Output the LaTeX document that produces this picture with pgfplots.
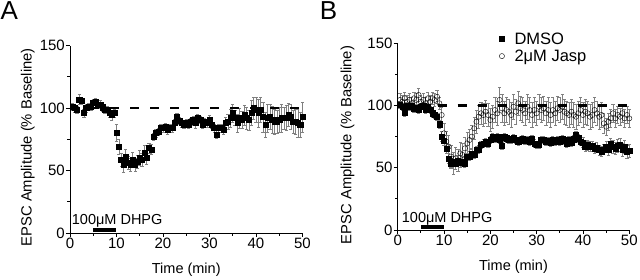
\documentclass[border=0pt]{standalone}
\usepackage{fontspec}
\setmainfont{Liberation Sans}
\usepackage{pgfplots}
\pgfplotsset{compat=1.18}
\usepackage{pgfplotstable}
\newcommand\fs{\fontsize{14.5}{17}\selectfont}
\newcommand\fl{\fontsize{16.5}{19}\selectfont}

\pgfplotstableread{
t v e
0.5 101.2 3
1 100 3
1.5 98.6 3
2 107 4
2.5 105.8 3
3 96 3
3.5 100 3
4 101 3
4.5 101 3
5 104 3
5.5 105 3
6 102.6 3
6.5 103 3
7 100.7 3
7.5 98.6 3
8 98.6 3
8.5 96 3
9 94.6 4
9.5 96 3
10 80 7
10.5 69 6
11 58.6 5
11.5 54.6 6
12 61 6
12.5 56 5
13 54.6 5
13.5 58.6 6
14 54.6 5
14.5 57 5
15 60 6
15.5 58.6 5
16 64 6
16.5 60 5
17 68 4
17.5 66.6 4
18 77 3
18.5 80 3
19 81 3
19.5 84 3
20 84 3
20.5 85 3
21 83 4
21.5 84 3
22 84 3
22.5 88 3
23 92.7 3
23.5 90 3
24 88 3
24.5 86.6 3
25 88 3
25.5 86.6 3
26 89 3
26.5 90.6 3
27 88 4
27.5 92 3
28 90.6 3
28.5 86.6 3
29 89 3
29.5 88 3
30 90.6 4
30.5 86.6 3
31 84 3
31.5 79 3
32 84 3
32.5 84 3
33 83 4
33.5 88 5
34 89 6
34.5 92 7
35 96 7
35.5 92 6
36 88 7
36.5 92 8
37 90.6 7
37.5 94.6 8
38 92 9
38.5 90.6 8
39 96 10
39.5 100 9
40 98.6 10
40.5 96 11
41 98.6 10
41.5 93 12
42 86.6 10
42.5 92 11
43 93 10
43.5 90.6 11
44 89 10
44.5 89 9
45 90.6 10
45.5 92 11
46 92 9
46.5 92 10
47 94.6 9
47.5 93 10
48 89 9
48.5 89 10
49 88 11
49.5 86.6 10
50 93 12
}\dataA

\pgfplotstableread{
t v e
0.5 100.5 3
1 99 3
1.5 94 3
2 99.6 3
2.5 99 3
3 99.6 3
3.5 97.8 3
4 97.8 3
4.5 96.4 3
5 99 3
5.5 99.6 3
6 96.4 3
6.5 99 3
7 96.4 3
7.5 93.8 3
8 92.4 3
8.5 91 3
9 85 3
9.5 75 4
10 72 4
10.5 65.6 4
11 57.6 4
11.5 53.6 4
12 55 4
12.5 53 4
13 56 4
13.5 54 4
14 55 4
14.5 53.6 3
15 59 3
15.5 59 3
16 61.6 3
16.5 60.3 3
17 64.3 3
17.5 64.8 3
18 68.3 3
18.5 69.6 3
19 71 3
19.5 69.6 3
20 72.3 3
20.5 75 3
21 73.7 3
21.5 74.5 3
22 72.3 3
22.5 67.5 3
23 74.5 3
23.5 73.7 3
24 72.9 3
24.5 72.3 3
25 73.7 3
25.5 72.3 3
26 71 3
26.5 72.3 3
27 72.9 3
27.5 71.8 3
28 72.3 3
28.5 71 3
29 72.9 3
29.5 69.6 3
30 68.3 3
30.5 68.3 3
31 72.3 3
31.5 72.3 3
32 71 3
32.5 71.8 3
33 70.2 3
33.5 72.3 3
34 71 3
34.5 72.3 3
35 71 3
35.5 72.9 3
36 71.8 3
36.5 69.6 3
37 72.3 3
37.5 70.2 3
38 72.9 3
38.5 76.3 3
39 73.7 3
39.5 71 3
40 70.2 4
40.5 67 4
41 68.3 4
41.5 67 4
42 67.5 4
42.5 65.6 4
43 66.4 4
43.5 64.3 4
44 63 4
44.5 64.8 4
45 67 4
45.5 64.3 4
46 69 5
46.5 67 5
47 65.6 5
47.5 67.5 5
48 68.3 5
48.5 64.3 5
49 67 5
49.5 63 5
50 63.8 5
}\dataBd

\pgfplotstableread{
t v e
0.5 104.5 5
1 103 5
1.5 105.8 5
2 103 5
2.5 104.5 5
3 101.8 5
3.5 105.8 5
4 104.5 5
4.5 108.5 5
5 103 5
5.5 104.5 5
6 101.8 5
6.5 105.8 5
7 103 5
7.5 105.8 5
8 104.5 5
8.5 107 5
9 101.8 5
9.5 92.4 6
10 77.7 8
10.5 71 8
11 67 9
11.5 59 9
12 53.6 9
12.5 57.6 9
13 56 9
13.5 61.6 9
14 60.3 9
14.5 65.6 9
15 69.6 9
15.5 72.3 9
16 75 9
16.5 81.7 9
17 87 9
17.5 91 9
18 93.8 9
18.5 92.4 9
19 95 9
19.5 92.4 9
20 88.4 9
20.5 91 9
21 96.4 10
21.5 93.8 10
22 104.5 10
22.5 97.8 11
23 93.8 10
23.5 96.4 10
24 95 10
24.5 92.4 10
25 99 10
25.5 95 10
26 101.8 10
26.5 97.8 10
27 96.4 10
27.5 93.8 10
28 99 10
28.5 96.4 10
29 92.4 10
29.5 96.4 10
30 93.8 10
30.5 99 10
31 96.4 10
31.5 97.8 10
32 93.8 10
32.5 96.4 10
33 92.4 10
33.5 96.4 10
34 93.8 10
34.5 97.8 10
35 96.4 10
35.5 99 10
36 95 10
36.5 93.8 10
37 92.4 10
37.5 95 10
38 92.4 10
38.5 91 10
39 93.8 10
39.5 96.4 10
40 92.4 10
40.5 95 10
41 93.8 10
41.5 91 10
42 92.4 10
42.5 96.4 10
43 93.8 10
43.5 91 10
44 92.4 10
44.5 85.7 8
45 83 7
45.5 87 7
46 89.7 7
46.5 93.8 7
47 89.7 7
47.5 92.4 7
48 91 7
48.5 93.8 7
49 89.7 7
49.5 92.4 7
50 89.7 7
}\dataBj

\pgfplotsset{
  myaxis/.style={
    scale only axis, anchor=south west,
    axis lines=left, axis line style={-, line width=0.8pt},
    xmin=0, xmax=50, ymin=0, ymax=150, enlargelimits=false,
    xtick={0,10,...,50}, ytick={0,50,100,150},
    minor x tick num=1, minor y tick num=1,
    tick align=outside, major tick length=4pt, minor tick length=2.5pt,
    tick style={line width=0.8pt, black},
    ticklabel style={font=\fontsize{15}{17}\selectfont, inner sep=1pt},
    /pgf/number format/assume math mode=true,
    label style={font=\fs},
    ylabel style={font=\fontsize{14.8}{17}\selectfont},
    xlabel={Time (min)}, ylabel={EPSC Amplitude (\% Baseline)},
    clip=false,
  },
  ebars/.style={
    error bars/.cd, y dir=both, y explicit,
    error bar style={gray, line width=0.6pt},
    error mark options={rotate=90, mark size=1.6pt, gray, line width=0.6pt},
  },
}

\begin{document}
\begin{tikzpicture}[x=1pt,y=1pt]
\path[use as bounding box] (0,0) rectangle (640,279);
\node[anchor=base west, inner sep=0, font=\fontsize{26}{30}\selectfont] at (0.5,259.5) {A};
\node[anchor=base west, inner sep=0, font=\fontsize{26}{30}\selectfont] at (319.7,259.5) {B};

\begin{axis}[myaxis, at={(70pt,46pt)}, width=232.5pt, height=187.4pt,
  xlabel style={at={(axis description cs:0.5,-0.195)}, anchor=center},
  ylabel style={at={(axis description cs:-0.181,0.458)}, anchor=center}]
\addplot[only marks, mark=square*, mark size=2.6pt, black, ebars]
  table[x=t, y=v, y error=e] {\dataA};
\addplot[black, line width=2.5pt, dash pattern=on 9pt off 11pt] coordinates {(0,100) (50,100)};
\addplot[black, line width=3.3pt] coordinates {(5,2.5) (10,2.5)};
\node[anchor=base west, inner sep=0, font=\fs] at (axis cs:0.37,6.8) {100μM DHPG};
\end{axis}

\begin{axis}[myaxis, at={(397.7pt,49pt)}, width=231.6pt, height=186.7pt,
  xlabel style={at={(axis description cs:0.5,-0.197)}, anchor=center},
  ylabel style={at={(axis description cs:-0.217,0.455)}, anchor=center},
  legend style={at={(axis description cs:0.425,1.08)}, anchor=north west, draw=none, fill=none, font=\fl, row sep=0pt, column sep=8pt},
  legend cell align=left]
\addlegendimage{only marks, mark=square*, mark size=2.4pt, black}
\addlegendentry{DMSO}
\addlegendimage{only marks, mark=o, mark size=2.6pt, black}
\addlegendentry{2μM Jasp}
\addplot[forget plot, only marks, mark=o, mark size=2.6pt, black, mark options={fill=white}, ebars]
  table[x=t, y=v, y error=e] {\dataBj};
\addplot[forget plot, only marks, mark=square*, mark size=2.6pt, black, ebars]
  table[x=t, y=v, y error=e] {\dataBd};
\addplot[forget plot, black, line width=2.5pt, dash pattern=on 9pt off 11pt] coordinates {(0,100) (50,100)};
\addplot[forget plot, black, line width=3.3pt] coordinates {(5,2.5) (10,2.5)};
\node[anchor=base west, inner sep=0, font=\fs] at (axis cs:0.86,5.9) {100μM DHPG};
\end{axis}
\end{tikzpicture}
\end{document}
